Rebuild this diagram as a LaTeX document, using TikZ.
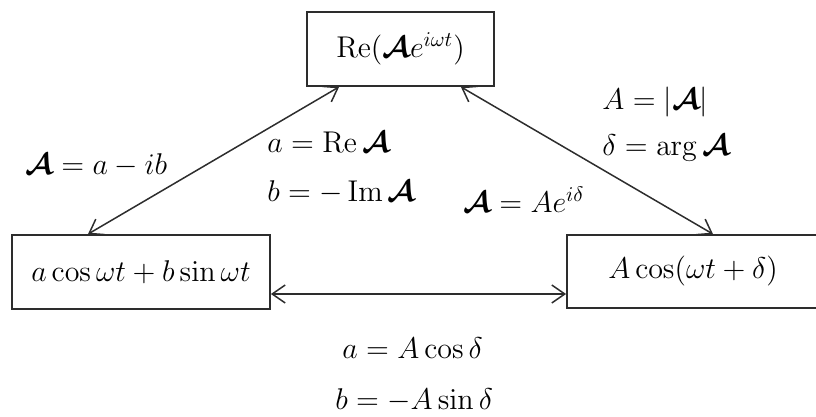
\documentclass[tikz,border=0pt]{standalone}
\usepackage{fix-cm}
\usepackage{amsmath}
\usepackage{bm}
\usetikzlibrary{arrows.meta,calc}
\newcommand{\cA}{\bm{\mathcal{A}}}
\definecolor{ink}{RGB}{45,45,45}
\tikzset{
  box/.style={draw=ink, line width=0.9pt, inner sep=0pt, font=\fontsize{15}{18}\selectfont},
  lbl/.style={anchor=west, inner sep=0pt, font=\fontsize{15}{18}\selectfont},
  arr/.style={draw=ink, line width=0.75pt, {Straight Barb[length=6.5pt,width=9pt,line width=0.75pt]}-{Straight Barb[length=6.5pt,width=9pt,line width=0.75pt]}}
}
\begin{document}
\begin{tikzpicture}[x=0.5pt,y=-0.5pt]
\useasboundingbox (0,0) rectangle (816,417);
\node[box, minimum width=93.5pt, minimum height=37pt] (top) at (400.5,49) {$\operatorname{Re}(\cA e^{i\omega t})$\hspace{1pt}};
\node[box, minimum width=129pt, minimum height=37pt] (left) at (141,272) {$a\cos\omega t+b\sin\omega t$\hspace{6pt}};
\node[box, minimum width=126pt, minimum height=36.5pt] (right) at (693,271.5) {$A\cos(\omega t+\delta)$\hspace{6pt}};

\draw[arr] ([xshift=16.5pt]top.south west) -- ([xshift=-26.5pt]left.north);
\draw[arr] ([xshift=-17pt]top.south east) -- ([xshift=10pt]right.north);
\draw[arr] (left.east |- 0,294) coordinate (hl) -- (right.west |- hl);

\node[lbl] (l1) at (25,165) {$\cA=a-ib$};
\node[lbl] (l2) at (267,142) {$a=\operatorname{Re}\cA$};
\node[lbl] (l3) at (267,192) {$b=-\operatorname{Im}\cA$};
\node[lbl] (l4) at (602,102) {$A=|\cA|$};
\node[lbl] (l5) at (602,148) {$\delta=\arg\cA$};
\node[lbl] (l6) at (463,200) {$\cA=Ae^{i\delta}$};
\node[lbl] (l7) at (342,348) {$a=A\cos\delta$};
\node[lbl] (l8) at (335,400) {$b=-A\sin\delta$};
\end{tikzpicture}
\end{document}
